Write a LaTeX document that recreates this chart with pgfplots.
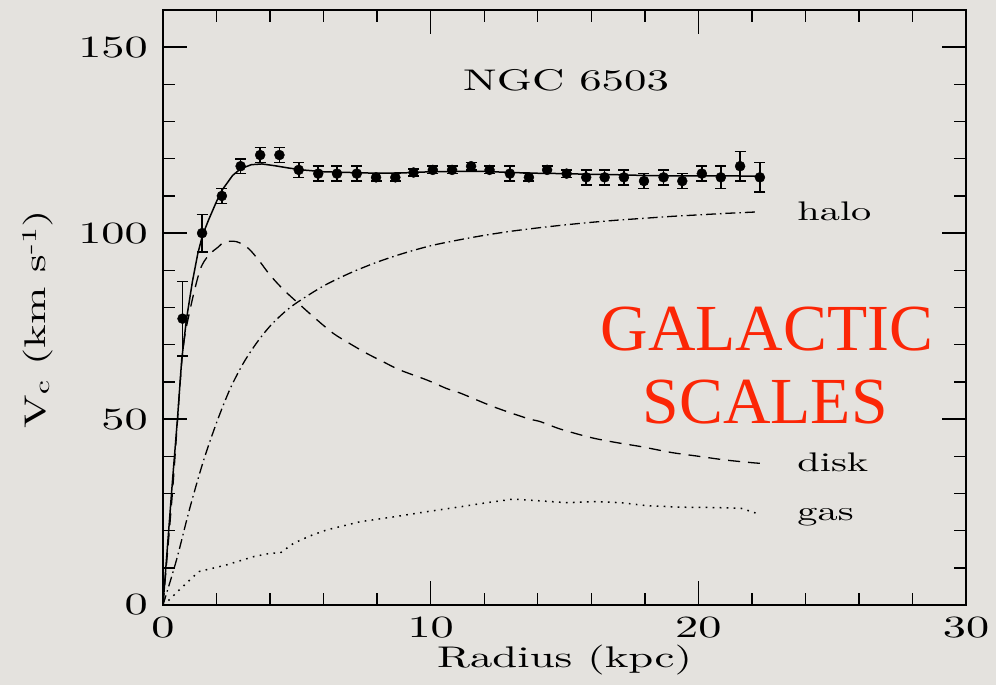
\documentclass[border=0pt]{standalone}
\usepackage{fontspec}
\usepackage{pgfplots}
\usepackage{pgfplotstable}
\pgfplotsset{compat=1.18}
\newfontfamily\hf{lmroman10-regular.otf}[FakeStretch=1.5]
\newfontfamily\tnr{Liberation Serif}
\definecolor{bg}{RGB}{228,226,222}
\definecolor{redtxt}{RGB}{252,38,6}

\pgfplotstableread{
x y e
0.73 77 10
1.46 100 5
2.2 110 2
2.9 118 2
3.63 121 2
4.35 121 2
5.07 117 2
5.8 116 2
6.5 116 2
7.24 116 2
7.96 115 1
8.68 115 1
9.36 116.3 1
10.08 117 1
10.8 117 1
11.51 118 1
12.2 117 1
12.96 116 2
13.67 115 1
14.35 117 1
15.08 116 1
15.81 115 2
16.5 115 2
17.22 115 2
17.97 114 2
18.7 115 2
19.4 114 2
20.13 116 2
20.84 115 3
21.56 118 4
22.3 115 4
}\obsdata

\pgfplotstableread{
x y
0 0
0.35 33
0.54 50
0.7 66
0.88 77
1.1 87
1.3 94.5
1.48 99.5
1.7 103.5
2.0 108.5
2.2 111.5
2.6 115.5
2.9 117.3
3.3 118.4
3.7 118.6
4.2 118.1
4.7 117.5
5.2 117.0
6 116.5
7 116.3
8 116.1
9 116.2
10 116.5
11 116.6
12 116.6
13 116.3
14 116.1
15 116.0
16 115.8
17 115.7
18 115.5
19 115.4
20 115.4
21 115.4
22.3 115.3
}\totaldata

\pgfplotstableread{
x y
0 0
0.35 30
0.72 66.8
1.0 79
1.38 90
1.7 94
2.07 96.3
2.3 97.6
2.75 97.7
3.19 95.9
3.6 92.5
4.0 88.7
4.5 84.8
5.06 81.1
5.7 77
6.37 73
7.0 70.2
7.6 67.7
8.2 65.5
8.85 63.2
9.86 60.5
10.6 58.2
11.1 57.0
12.35 53.3
13.6 50.2
14.1 49.3
14.85 47.3
16 45.0
17 43.6
17.85 42.6
19 41.0
20 40.0
21 39.0
21.96 38.3
22.3 38.1
}\diskdata

\pgfplotstableread{
x y
0 0
0.5 12
1.0 26
1.5 38.5
2.0 49
2.5 58
3.0 65
3.5 70.5
4.0 75
4.5 78.5
5.0 81.3
6.0 85.8
7.0 89.3
8.0 92.2
9.0 94.6
10.0 96.6
11.0 98.1
12.0 99.4
13.0 100.5
14.0 101.4
15.0 102.2
16.0 102.9
17.0 103.5
18.0 104.0
19.0 104.5
20.0 104.9
21.0 105.3
22.2 105.7
}\halodata

\pgfplotstableread{
x y
0 0
0.22 1.3
0.6 4
1.13 7.6
1.35 9
2.38 10.8
3.38 13
4.0 13.9
4.38 14
4.88 16.6
5.5 18.6
6.12 20.2
7.37 22.4
8.62 23.7
9.86 25.1
11.1 26.4
12.0 27.4
13.1 28.5
14.1 28.0
15.1 27.5
16.2 27.8
17.1 27.5
18.1 26.7
19.35 26.3
20.6 26.2
21.6 26.0
22.2 24.6
}\gasdata

\begin{document}
\begin{tikzpicture}
\fill[bg] (-163bp,-80bp) rectangle (833bp,605bp);
\begin{axis}[
  at={(0,0)}, anchor=south west,
  scale only axis, width=803bp, height=595bp,
  xmin=0, xmax=30, ymin=0, ymax=160,
  xtick={0,10,20,30}, ytick={0,50,100,150},
  minor x tick num=4, minor y tick num=4,
  tick align=inside,
  major tick length=24bp, minor tick length=12bp,
  every tick/.style={black, line width=1.4bp},
  axis line style={line width=1.8bp},
  /pgf/number format/assume math mode=true,
  tick label style={font=\hf\fontsize{31}{36}\selectfont, inner sep=0pt},
  xticklabel style={anchor=north, yshift=-12bp},
  yticklabel style={anchor=east, xshift=-15bp},
  label style={font=\hf\fontsize{30}{36}\selectfont},
  xlabel={Radius (kpc)},
  ylabel={V\textsubscript{c} (km s\textsuperscript{-1})},
  x label style={at={(axis description cs:0.5,0)}, yshift=-55bp, anchor=center},
  y label style={at={(axis description cs:0,0.48)}, rotate=0, yshift=125bp, anchor=center},
]
\addplot[black, line width=1.5bp] table[x=x,y=y] {\totaldata};
\addplot[black, line width=1.3bp, smooth, dash pattern=on 12bp off 8bp] table[x=x,y=y] {\diskdata};
\addplot[black, line width=1.3bp, smooth, dash pattern=on 10bp off 4bp on 1.5bp off 4bp] table[x=x,y=y] {\halodata};
\addplot[black, line width=1.5bp, dash pattern=on 1.6bp off 5.4bp] table[x=x,y=y] {\gasdata};
\addplot[black, only marks, mark=*, mark size=5bp,
  error bars/.cd, y dir=both, y explicit,
  error bar style={line width=1.6bp, black},
  error mark options={rotate=90, mark size=5.5bp, line width=1.6bp, black}]
  table[x=x, y=y, y error=e] {\obsdata};
\node[anchor=base, font=\hf\fontsize{30}{36}\selectfont] at (axis cs:15.06,138.4) {NGC 6503};
\node[anchor=base west, font=\hf\fontsize{27}{32}\selectfont] at (axis cs:23.57,103.5) {halo};
\node[anchor=base west, font=\hf\fontsize{27}{32}\selectfont] at (axis cs:23.57,35.8) {disk};
\node[anchor=base west, font=\hf\fontsize{27}{32}\selectfont] at (axis cs:23.57,22.8) {gas};
\node[anchor=base, text=redtxt, font=\tnr\fontsize{66}{72}\selectfont] at (axis cs:22.56,68.5) {GALACTIC};
\node[anchor=base, text=redtxt, font=\tnr\fontsize{66}{72}\selectfont] at (axis cs:22.5,48.9) {SCALES};
\end{axis}
\end{tikzpicture}
\end{document}
